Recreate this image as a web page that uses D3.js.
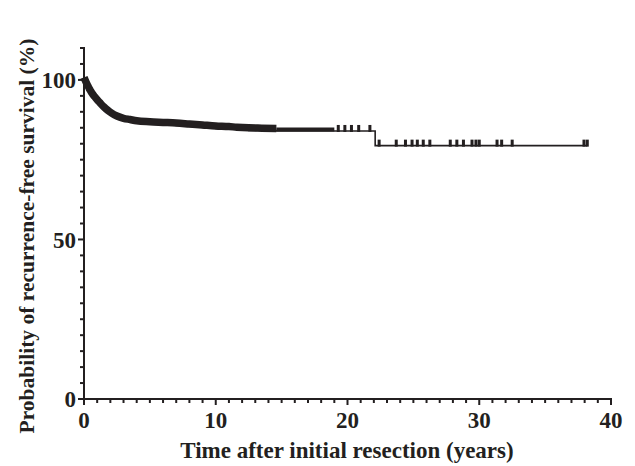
<!DOCTYPE html>
<html lang="en">
<head>
<meta charset="UTF-8">
<title>Recurrence-free survival</title>
<script src="https://d3js.org/d3.v7.min.js"></script>
<style>
    body { margin: 0; background: #fff; }
    text { font-family: "Liberation Serif", "Times New Roman", serif; font-weight: bold; fill: #231f20; }
</style>
</head>
<body>
<svg width="635" height="466"></svg>
<script>
    // Kaplan-Meier steps (years, %)
    const stepTimes = [0, 0.1, 0.2, 0.3, 0.4, 0.5, 0.6, 0.8, 1.0, 1.2, 1.5, 1.8, 2.1, 2.5, 3.0, 3.5,
        4.0, 5.0, 6.0, 7.0, 8.0, 9.0, 10.0, 11.0, 11.6, 12.5, 13.5, 14.6, 22.1];
    const stepSurv = [100, 99.0, 98.1, 97.3, 96.5, 95.8, 95.1, 94.0, 93.0, 92.1, 90.8, 89.7, 88.8, 87.9, 87.2, 86.8,
        86.4, 86.1, 85.9, 85.7, 85.4, 85.1, 84.8, 84.6, 84.4, 84.2, 84.1, 84.0, 79.4];
    const lastTime = 38.2;

    // stretches where censor ticks are packed so tight they merge into a band
    const censorBands = [
        { from: 0, to: 14.6, level: "dense" },
        { from: 14.6, to: 19.0, level: "medium" }
    ];
    // isolated censor ticks (years)
    const censorTimes = [19.3, 19.8, 20.3, 20.85, 21.7, 22.4, 23.7, 24.4, 24.9, 25.3, 25.75, 26.25,
        27.8, 28.3, 28.8, 29.45, 29.75, 30.0, 31.35, 31.7, 32.5, 37.95, 38.2];

    const xTicks = [0, 10, 20, 30, 40];
    const yTicks = [0, 50, 100];
    const xTitle = "Time after initial resection (years)";
    const yTitle = "Probability of recurrence-free survival (%)";

    const svg = d3.select("svg");
    const x = d3.scaleLinear().domain([0, 40]).range([84, 611]);
    const y = d3.scaleLinear().domain([0, 110]).range([399, 48]);

    // survival at time t (step function)
    function survAt(t) {
        let s = stepSurv[0];
        for (let i = 0; i < stepTimes.length; i++) if (stepTimes[i] <= t) s = stepSurv[i];
        return s;
    }

    const pts = stepTimes.map((t, i) => [t, stepSurv[i]]);
    pts.push([lastTime, stepSurv[stepSurv.length - 1]]);

    const line = d3.line().x(d => x(d[0])).y(d => y(d[1])).curve(d3.curveStepAfter);

    svg.append("path").datum(pts)
        .attr("d", line)
        .attr("fill", "none")
        .attr("stroke", "#231f20")
        .attr("stroke-width", 1.6);

    // censor bands
    const bandStyle = { dense: { w: 7.5, dy: -2.5 }, medium: { w: 4, dy: -1.5 } };
    censorBands.forEach(b => {
        const seg = pts.filter(p => p[0] > b.from && p[0] < b.to);
        seg.unshift([b.from, survAt(b.from)]);
        seg.push([b.to, survAt(b.to)]);
        svg.append("path").datum(seg)
            .attr("d", d3.line().x(d => x(d[0])).y(d => y(d[1])).curve(d3.curveMonotoneX))
            .attr("transform", `translate(0,${bandStyle[b.level].dy})`)
            .attr("fill", "none")
            .attr("stroke", "#231f20")
            .attr("stroke-width", bandStyle[b.level].w);
    });

    // isolated censor ticks
    svg.append("g").selectAll("rect")
        .data(censorTimes)
        .join("rect")
        .attr("x", d => x(d) - 1.5)
        .attr("y", d => y(survAt(d)) - 6)
        .attr("width", 3)
        .attr("height", 7)
        .attr("fill", "#231f20");

    // axes
    const xAxis = svg.append("g").attr("transform", "translate(0,399)");
    xAxis.append("line").attr("x1", x(0) - 1).attr("x2", x(40) + 1)
        .attr("stroke", "#231f20").attr("stroke-width", 2);
    xAxis.selectAll(".minor").data(d3.range(0, 41)).join("line")
        .attr("x1", d => x(d)).attr("x2", d => x(d))
        .attr("y1", 0).attr("y2", d => d % 10 === 0 ? 6 : 4)
        .attr("stroke", "#231f20").attr("stroke-width", 2);
    xAxis.selectAll("text").data(xTicks).join("text")
        .attr("x", d => x(d)).attr("y", 29)
        .attr("text-anchor", "middle")
        .attr("font-size", 23)
        .text(d => d);

    const yAxis = svg.append("g").attr("transform", "translate(84,0)");
    yAxis.append("line").attr("y1", y(0) + 1).attr("y2", y(110) - 1)
        .attr("stroke", "#231f20").attr("stroke-width", 2);
    yAxis.selectAll(".minor").data(d3.range(0, 111, 5)).join("line")
        .attr("y1", d => y(d)).attr("y2", d => y(d))
        .attr("x1", 0).attr("x2", d => d % 50 === 0 ? -6 : -4)
        .attr("stroke", "#231f20").attr("stroke-width", 2);
    yAxis.selectAll("text").data(yTicks).join("text")
        .attr("x", -8).attr("y", d => y(d))
        .attr("dy", "0.35em")
        .attr("text-anchor", "end")
        .attr("font-size", 23)
        .text(d => d);

    svg.append("text")
        .attr("x", 347).attr("y", 458)
        .attr("text-anchor", "middle")
        .attr("font-size", 23)
        .text(xTitle);

    svg.append("text")
        .attr("transform", "translate(34,236) rotate(-90)")
        .attr("text-anchor", "middle")
        .attr("font-size", 21.5)
        .text(yTitle);
</script>
</body>
</html>
